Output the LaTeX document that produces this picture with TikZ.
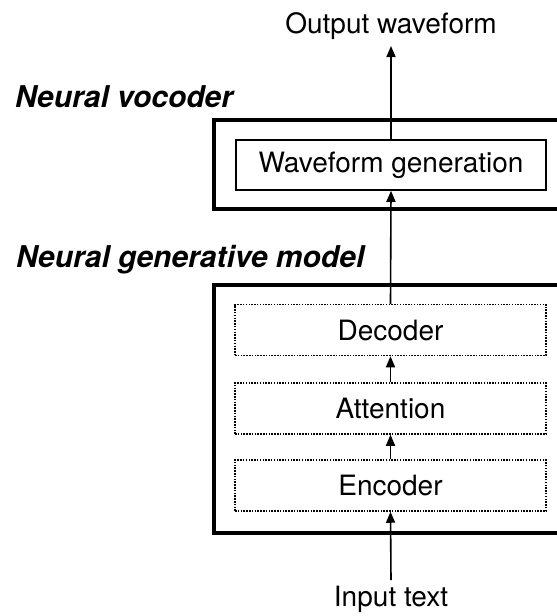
\documentclass[tikz,border=0pt]{standalone}
\usepackage{fontspec}
\setmainfont{TeX Gyre Heros}
\usetikzlibrary{arrows.meta}

\tikzset{
  group/.style={draw, line width=3.5pt, minimum width=346pt, inner sep=0pt},
  block/.style={draw, line width=1.6pt, minimum width=310pt, minimum height=50pt, inner sep=0pt,
                font=\fontsize{28}{32}\selectfont},
  stage/.style={draw, line width=1.5pt, dash pattern=on 1.5pt off 1.3pt,
                minimum width=311pt, minimum height=51pt, inner sep=0pt,
                font=\fontsize{28}{32}\selectfont},
  heading/.style={anchor=base west, inner sep=0pt, font=\fontsize{30}{34}\selectfont\bfseries\itshape},
  caption/.style={anchor=base, inner sep=0pt, font=\fontsize{28}{32}\selectfont},
  flow/.style={line width=1.6pt, -{Triangle[length=11pt,width=9pt]}}
}

\begin{document}
\begin{tikzpicture}[x=1pt, y=-1pt]
  \path[clip] (0,0) rectangle (557,616);

  % outer groups (right edge runs past the page)
  \node[group, minimum height=89pt]  (voc) at (387,164.5) {};
  \node[group, minimum height=248pt] (gen) at (387,409)   {};

  \node[heading] (vocl) at (15,107) {Neural vocoder};
  \node[heading] (genl) at (16,267) {Neural generative model};

  % processing blocks
  \node[block] (wave) at (391,165)   {Waveform generation};
  \node[stage] (dec)  at (390.5,330) {Decoder};
  \node[stage] (att)  at (390.5,408.5) {Attention};
  \node[stage] (enc)  at (390.5,485.5) {Encoder};

  % input and output
  \node[caption] (out) at (391,33)  {Output waveform};
  \node[caption] (in)  at (391,606) {Input text};
  \coordinate (outtip) at (391,46);
  \coordinate (intail) at (391,580);

  % data flow
  \draw[flow] (intail) -- (enc.south);
  \draw[flow] (enc.north) -- (att.south);
  \draw[flow] (att.north) -- (dec.south);
  \draw[flow] (dec.north) -- (wave.south);
  \draw[flow] (wave.north) -- (outtip);
\end{tikzpicture}
\end{document}
